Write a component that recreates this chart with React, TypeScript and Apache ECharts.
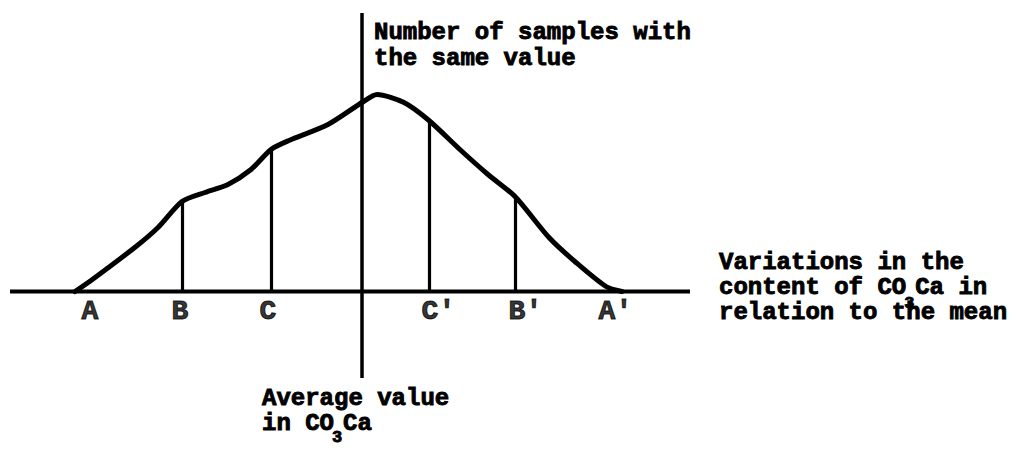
import React, { useEffect, useRef } from "react";
import * as echarts from "echarts";

// Units: arbitrary variation units, origin = mean (vertical axis) on the baseline.
const curvePoints: [number, number][] = [
  [-28.7, 0], [-27.1, 1.1], [-22.6, 4.5], [-20.4, 6.4], [-18.0, 9.0],
  [-15.7, 9.9], [-13.4, 10.7], [-11.1, 12.2], [-9.1, 14.2], [-7.3, 15.1],
  [-3.4, 16.7], [0, 18.9], [1.5, 19.7], [4.2, 18.9], [6.7, 17.1],
  [9.9, 14.1], [12.6, 11.7], [15.3, 9.5], [18.7, 5.4], [21.4, 2.9],
  [24.4, 0.5], [26.0, 0],
];
const ordinateX = [-18.0, -9.1, 6.7, 15.3];
const ordinateH = [9.0, 14.2, 17.1, 9.5];
const pointLabels = ["A", "B", "C", "C'", "B'", "A'"];
const pointLabelX = [-27.2, -18.2, -9.4, 6.8, 15.5, 24.5];
const horizontalAxis: [number, number][] = [[-35.2, 0], [32.8, 0]];
const verticalAxis: [number, number][] = [[0, -8.65], [0, 27.85]];

const FONT = "Liberation Mono, DejaVu Sans Mono, monospace";
const CH = 14.4; // char pitch at 24px

function txt(text: string, x: number, y: number, size = 24, va: string = "middle") {
  return {
    type: "text",
    x,
    y,
    silent: true,
    style: {
      text,
      fontFamily: FONT,
      fontSize: size,
      fontWeight: "bold",
      lineHeight: size - 4,
      fill: "#000",
      stroke: "#000",
      lineWidth: 0.9,
      align: "left",
      verticalAlign: va,
    },
  };
}

export default function App() {
  const ref = useRef<HTMLDivElement>(null);
  useEffect(() => {
    if (!ref.current) return;
    const chart = echarts.init(ref.current, undefined, { renderer: "svg" });
    const black = "#000";
    const rightX = 719;
    const botX = 262;
    chart.setOption({
      animation: false,
      backgroundColor: "#fff",
      grid: { left: 0, right: 0, top: 0, bottom: 0 },
      xAxis: { type: "value", min: -36.2, max: 65.1, show: false },
      yAxis: { type: "value", min: -16.45, max: 29.15, show: false },
      graphic: [
        txt("Number of samples with", 374, 32),
        txt("the same value", 374, 58),
        txt("Variations in the", rightX, 262),
        txt("content of CO", rightX, 287),
        txt("3", rightX + 13 * CH - 2, 297, 17, "top"),
        txt("Ca in", rightX + 13 * CH + 9, 287),
        txt("relation to the mean", rightX, 312),
        txt("Average value", botX, 398),
        txt("in CO", botX, 423),
        txt("3", botX + 5 * CH - 2, 431, 17, "top"),
        txt("Ca", botX + 5 * CH + 9, 423),
      ],
      series: [
        {
          type: "line",
          data: horizontalAxis,
          symbol: "none",
          silent: true,
          lineStyle: { color: black, width: 4 },
        },
        {
          type: "line",
          data: verticalAxis,
          symbol: "none",
          silent: true,
          lineStyle: { color: black, width: 3.5 },
        },
        {
          type: "line",
          data: curvePoints,
          smooth: 0.25,
          symbol: "none",
          silent: true,
          lineStyle: { color: black, width: 5, cap: "round", join: "round" },
          markLine: {
            silent: true,
            symbol: "none",
            label: { show: false },
            lineStyle: { color: black, width: 3.2, type: "solid" },
            data: ordinateX.map((x, i) => [
              { coord: [x, 0] },
              { coord: [x, ordinateH[i]] },
            ]),
          },
        },
        {
          type: "scatter",
          data: pointLabelX.map((x) => [x, 0]),
          symbolSize: 1,
          itemStyle: { color: "rgba(0,0,0,0)" },
          silent: true,
          label: {
            show: true,
            position: "inside",
            formatter: (p: any) => pointLabels[p.dataIndex],
            align: "left",
            verticalAlign: "middle",
            offset: [-8.4, 19.5],
            fontFamily: FONT,
            fontSize: 28,
            fontWeight: "bold",
            color: black,
            textBorderColor: black,
            textBorderWidth: 1,
          },
        },
      ],
    });
    return () => chart.dispose();
  }, []);
  return (
    <div
      ref={ref}
      style={{ position: "fixed", left: 0, top: 0, width: 1013, height: 456, background: "#fff" }}
    />
  );
}
